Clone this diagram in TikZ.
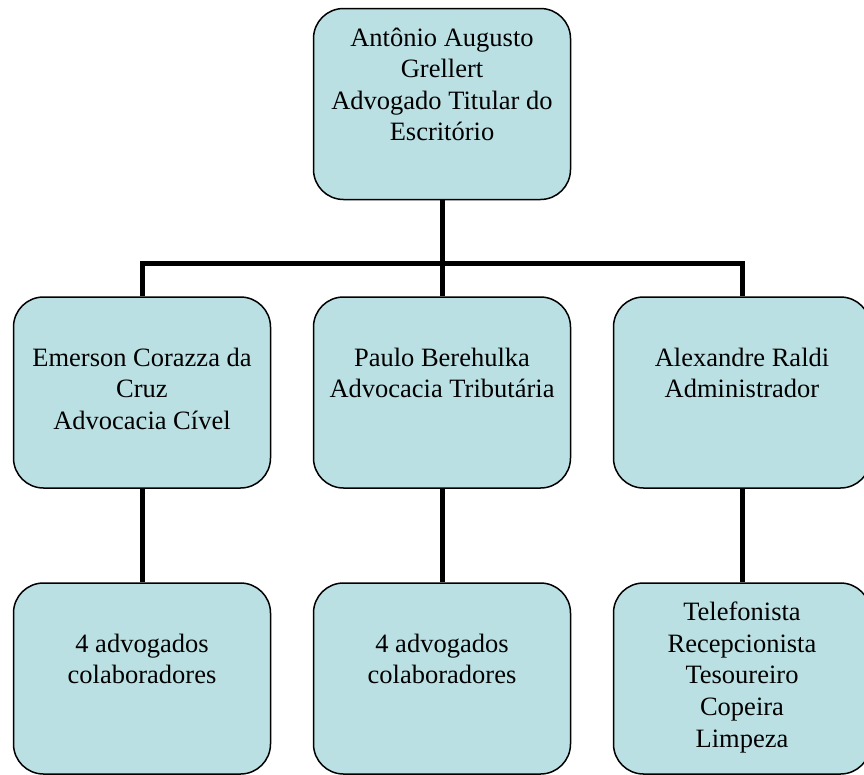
\documentclass[tikz,border=0pt]{standalone}
\usepackage{fontspec}
\setmainfont{Liberation Serif}
\usetikzlibrary{positioning}
\definecolor{boxfill}{RGB}{187,224,227}

\begin{document}
\begin{tikzpicture}[x=1pt,y=-1pt,
  orgbox/.style={draw, fill=boxfill, line width=1.5pt, rounded corners=30pt,
    minimum width=257pt, minimum height=191pt, inner sep=0pt, align=center,
    text depth=8pt, font=\fontsize{26.5}{31.6}\selectfont},
  orglink/.style={line width=5pt}]
\useasboundingbox (0,0) rectangle (864,774);
\node[orgbox] (head) at (442,104) {Antônio Augusto\\Grellert\\Advogado Titular do\\Escritório\\\mbox{}};
\node[orgbox] (civel) at (142,392.5) {Emerson Corazza da\\Cruz\\Advocacia Cível};
\node[orgbox] (tribut) at (442,392.5) {Paulo Berehulka\\Advocacia Tributária\\\mbox{}};
\node[orgbox] (admin) at (742,392.5) {Alexandre Raldi\\Administrador\\\mbox{}};
\node[orgbox] (civelcol) at (142,678.5) {4 advogados\\colaboradores\\\mbox{}};
\node[orgbox] (tributcol) at (442,678.5) {4 advogados\\colaboradores\\\mbox{}};
\node[orgbox] (staff) at (742,678.5) {Telefonista\\Recepcionista\\Tesoureiro\\Copeira\\Limpeza};
\coordinate (bus) at (442,263);
\draw[orglink] (head.south) -- (tribut.north);
\draw[orglink] (civel.north) |- (bus) -| (admin.north);
\draw[orglink] (civel.south) -- (civelcol.north);
\draw[orglink] (tribut.south) -- (tributcol.north);
\draw[orglink] (admin.south) -- (staff.north);
\end{tikzpicture}
\end{document}
